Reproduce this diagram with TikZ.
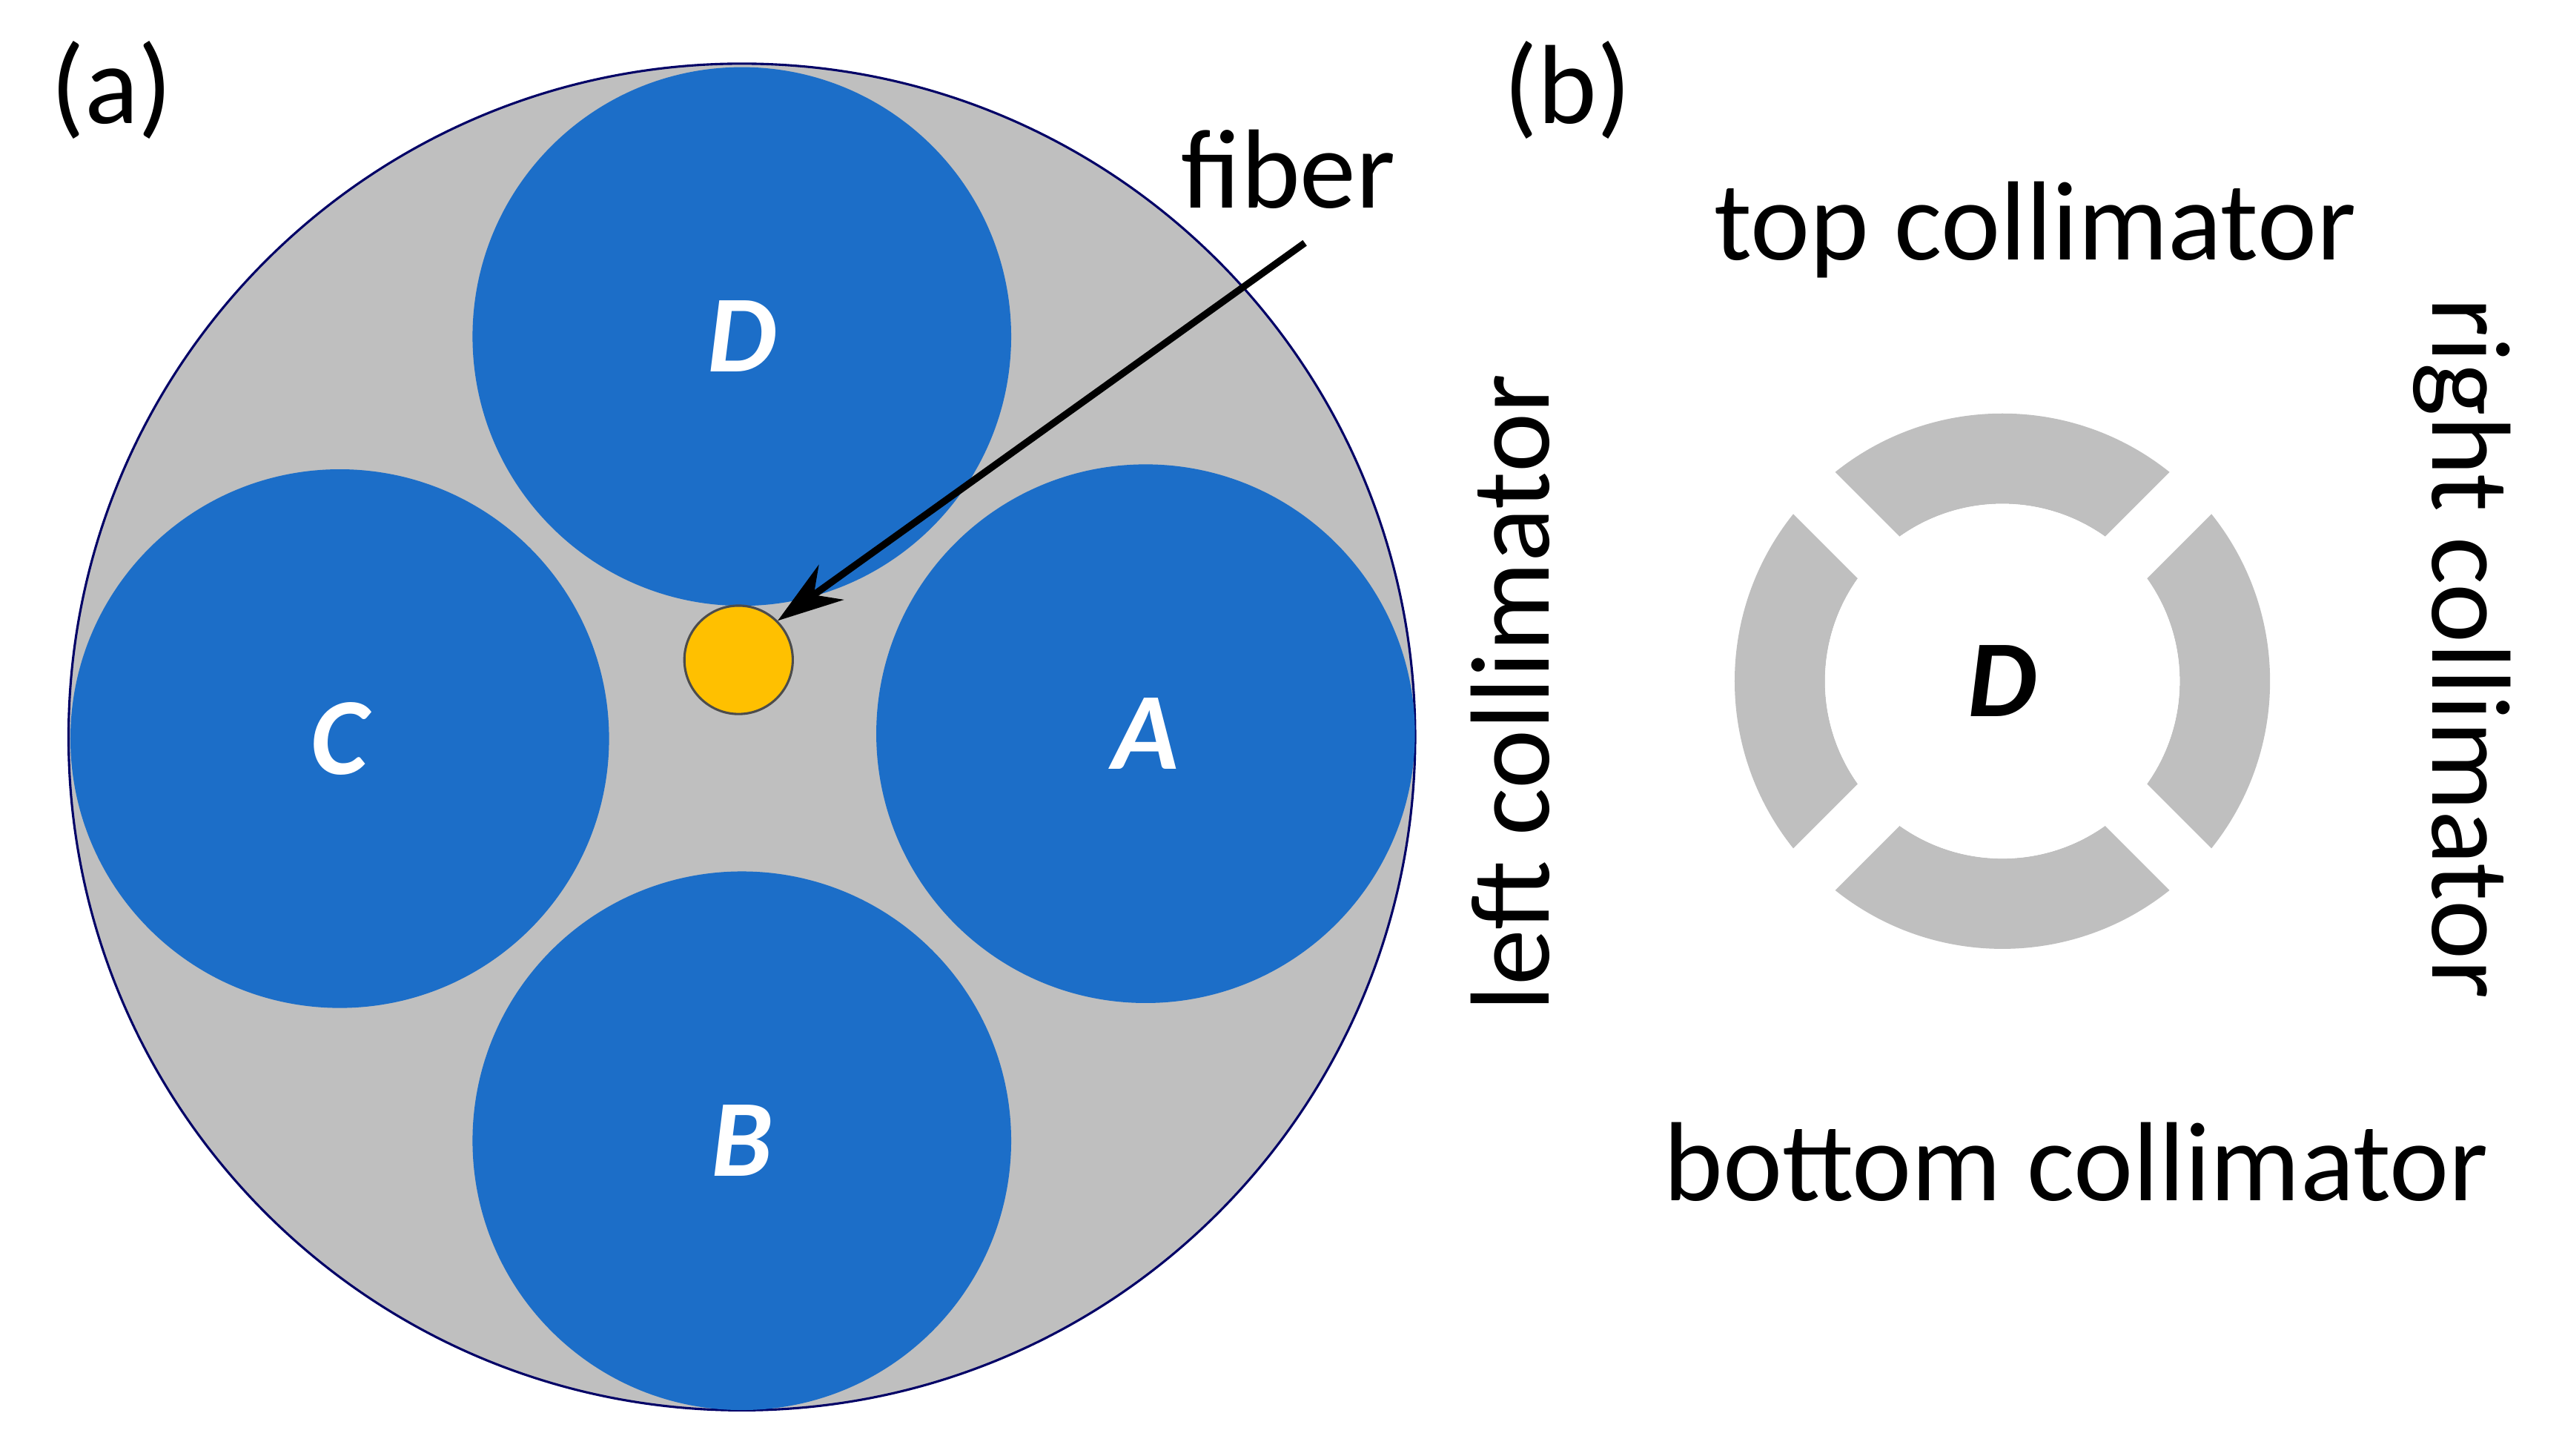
\documentclass[tikz,border=0pt]{standalone}
\usepackage{fontspec}
\setmainfont{Carlito}
\usetikzlibrary{arrows.meta}
\definecolor{lensgray}{RGB}{191,191,191}
\definecolor{detblue}{RGB}{28,110,200}
\definecolor{fibgold}{RGB}{255,192,0}
\tikzset{
  det/.style={circle,fill=detblue,minimum size=32.8mm,inner sep=0pt,
    text=white,font=\fontsize{19}{22}\selectfont\bfseries\itshape},
  lbl/.style={font=\fontsize{19.5}{23}\selectfont,inner sep=0pt}
}
\begin{document}
\begin{tikzpicture}[x=0.01cm,y=-0.01cm]
\useasboundingbox (0,0) rectangle (1561,887);
%panel a
\node[circle,fill=lensgray,draw=black!60!blue,thin,minimum size=82mm,inner sep=0pt] (disk) at (452,449) {};
\node[det] (detD) at (452,205) {D};
\node[det] (detB) at (452,695) {B};
\node[det] (detC) at (207,450) {C};
\node[det] (detA) at (698,447) {A};
\node[circle,fill=fibgold,draw=black!70,thin,minimum size=6.6mm,inner sep=0pt] (fib) at (450,402) {};
\node[lbl] (fibtxt) at (785,103) {fiber};
\coordinate (fibstart) at (795,148);
\draw[-{Stealth[length=4mm,width=2.6mm]},line width=1.2pt] (fibstart) -- (fib.north east);
\node[lbl] (pa) at (68,55) {(a)};
%panel b
\node[lbl] (pb) at (955,55) {(b)};
\coordinate (ring) at (1220,415);
\fill[lensgray,even odd rule] (ring) circle[radius=16.3mm] (ring) circle[radius=10.8mm];
\foreach \a in {45,135}
  \draw[white,line width=3.6mm] ([shift={(ring)}]\a:18mm) -- ([shift={(ring)}]\a+180:18mm);
\fill[white] (ring) circle[radius=10.8mm];
\node[lbl,font=\fontsize{19}{22}\selectfont\bfseries\itshape] (detDb) at (ring) {D};
\node[lbl] (topc) at (1240,140) {top collimator};
\node[lbl] (botc) at (1265,708) {bottom collimator};
\node[lbl,rotate=90] (leftc) at (920,422) {left collimator};
\node[lbl,rotate=-90] (rightc) at (1500,395) {right collimator};
\end{tikzpicture}
\end{document}
